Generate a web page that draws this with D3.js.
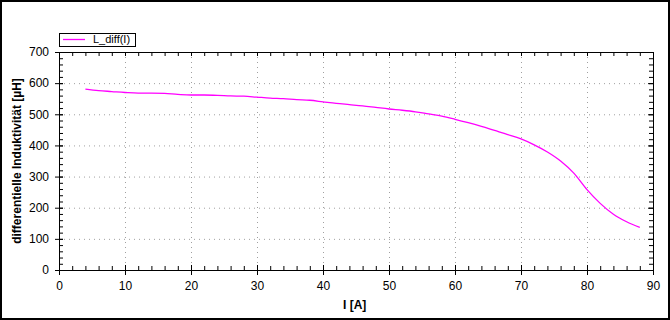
<!DOCTYPE html>
<html>
<head>
<meta charset="utf-8">
<script src="https://cdn.jsdelivr.net/npm/d3@7"></script>
<style>
  body { margin: 0; background: #fff; }
  svg { display: block; font-family: Arial, "Liberation Sans", sans-serif; }
</style>
</head>
<body>
<div id="chart"></div>
<script>
const current = [4, 6, 8, 10, 12, 14, 16, 18, 20, 22, 24, 26, 28, 30, 32, 34, 36, 38, 40, 42, 44,
  46, 48, 50, 52, 54, 56, 58, 60, 62, 64, 66, 68, 70, 72, 74, 76, 78, 80, 82, 84, 86, 88];
const inductance = [581, 576, 573, 570, 568, 568, 567, 564, 562, 562, 561, 559, 558, 555, 552, 550, 547, 545, 540, 535, 531,
  527, 522, 517, 513, 508, 501, 494, 484, 473, 461, 448, 435, 421, 402, 379, 350, 311, 258, 214, 179, 155, 137];
const xTicks = [0, 10, 20, 30, 40, 50, 60, 70, 80, 90];
const yTicks = [0, 100, 200, 300, 400, 500, 600, 700];
const seriesName = "L_diff(I)";
const xTitle = "I [A]";
const yTitle = "differentielle Induktivität [µH]";

const W = 670, H = 320;
const margin = { top: 52, right: 17, bottom: 50, left: 59 };
const width = W - margin.left - margin.right;
const height = H - margin.top - margin.bottom;

const svg = d3.select("#chart").append("svg")
  .attr("width", W)
  .attr("height", H);

svg.append("rect")
  .attr("x", 1).attr("y", 1)
  .attr("width", W - 2).attr("height", H - 2)
  .attr("fill", "#fff")
  .attr("stroke", "#000")
  .attr("stroke-width", 2);

const g = svg.append("g")
  .attr("transform", `translate(${margin.left},${margin.top})`);

const x = d3.scaleLinear().domain([0, 90]).range([0, width]);
const y = d3.scaleLinear().domain([0, 700]).range([height, 0]);

// grid
g.append("g")
  .selectAll("line")
  .data(xTicks.slice(1, -1))
  .enter().append("line")
  .attr("x1", d => x(d) + 0.5).attr("x2", d => x(d) + 0.5)
  .attr("y1", 0).attr("y2", height)
  .attr("stroke", "#a0a0a0")
  .attr("stroke-dasharray", "1,4");

g.append("g")
  .selectAll("line")
  .data(yTicks.slice(1, -1))
  .enter().append("line")
  .attr("x1", 0).attr("x2", width)
  .attr("y1", d => y(d) + 0.5).attr("y2", d => y(d) + 0.5)
  .attr("stroke", "#a0a0a0")
  .attr("stroke-dasharray", "1,4");

// minor ticks
const xMinor = d3.range(0, 91, 2);
const yMinor = d3.range(0, 701, 20);

function styleAxis(sel) {
  sel.select(".domain").attr("stroke", "#000");
  sel.selectAll("line").attr("stroke", "#000");
  sel.selectAll("text").attr("fill", "#000").style("font-size", "12px");
}

// bottom axis
g.append("g")
  .attr("transform", `translate(0,${height})`)
  .call(d3.axisBottom(x).tickValues(xMinor).tickSize(-4).tickFormat(""))
  .call(styleAxis);
g.append("g")
  .attr("transform", `translate(0,${height})`)
  .call(d3.axisBottom(x).tickValues(xTicks).tickSizeInner(5).tickSizeOuter(0).tickPadding(6))
  .call(styleAxis)
  .call(a => a.selectAll(".tick line").attr("y1", -5));

// left axis
g.append("g")
  .call(d3.axisLeft(y).tickValues(yMinor).tickSize(-4).tickFormat(""))
  .call(styleAxis);
g.append("g")
  .call(d3.axisLeft(y).tickValues(yTicks).tickSizeInner(4).tickSizeOuter(0).tickPadding(6))
  .call(styleAxis)
  .call(a => a.selectAll(".tick line").attr("x1", 4));

// top axis
g.append("g")
  .call(d3.axisTop(x).tickValues(xMinor).tickSize(-4).tickFormat(""))
  .call(styleAxis);

// right axis
g.append("g")
  .attr("transform", `translate(${width},0)`)
  .call(d3.axisRight(y).tickValues(yMinor).tickSize(-4).tickFormat(""))
  .call(styleAxis);
g.append("g")
  .attr("transform", `translate(${width},0)`)
  .call(d3.axisRight(y).tickValues(yTicks).tickSize(-5).tickFormat(""))
  .call(styleAxis);

// series
const points = current.map((c, i) => [c, inductance[i]]);
g.append("path")
  .datum(points)
  .attr("fill", "none")
  .attr("stroke", "#ff00ff")
  .attr("stroke-width", 1.3)
  .attr("d", d3.line().x(d => x(d[0])).y(d => y(d[1])).curve(d3.curveMonotoneX));

// legend
const legend = svg.append("g").attr("transform", "translate(59,33)");
legend.append("rect")
  .attr("x", 0.5).attr("y", 0.5)
  .attr("width", 76).attr("height", 13)
  .attr("fill", "#fff")
  .attr("stroke", "#000");
legend.append("line")
  .attr("x1", 4).attr("x2", 26)
  .attr("y1", 6.5).attr("y2", 6.5)
  .attr("stroke", "#ff00ff")
  .attr("stroke-width", 1.3);
legend.append("text")
  .attr("x", 34).attr("y", 10)
  .style("font-size", "11px")
  .text(seriesName);

// titles
svg.append("text")
  .attr("text-anchor", "middle")
  .attr("x", margin.left + x(44.8))
  .attr("y", 309)
  .style("font-size", "12px")
  .style("font-weight", "bold")
  .text(xTitle);

svg.append("text")
  .attr("text-anchor", "middle")
  .attr("transform", `translate(21,${margin.top + height / 2}) rotate(-90)`)
  .style("font-size", "12px")
  .style("font-weight", "bold")
  .text(yTitle);
</script>
</body>
</html>
